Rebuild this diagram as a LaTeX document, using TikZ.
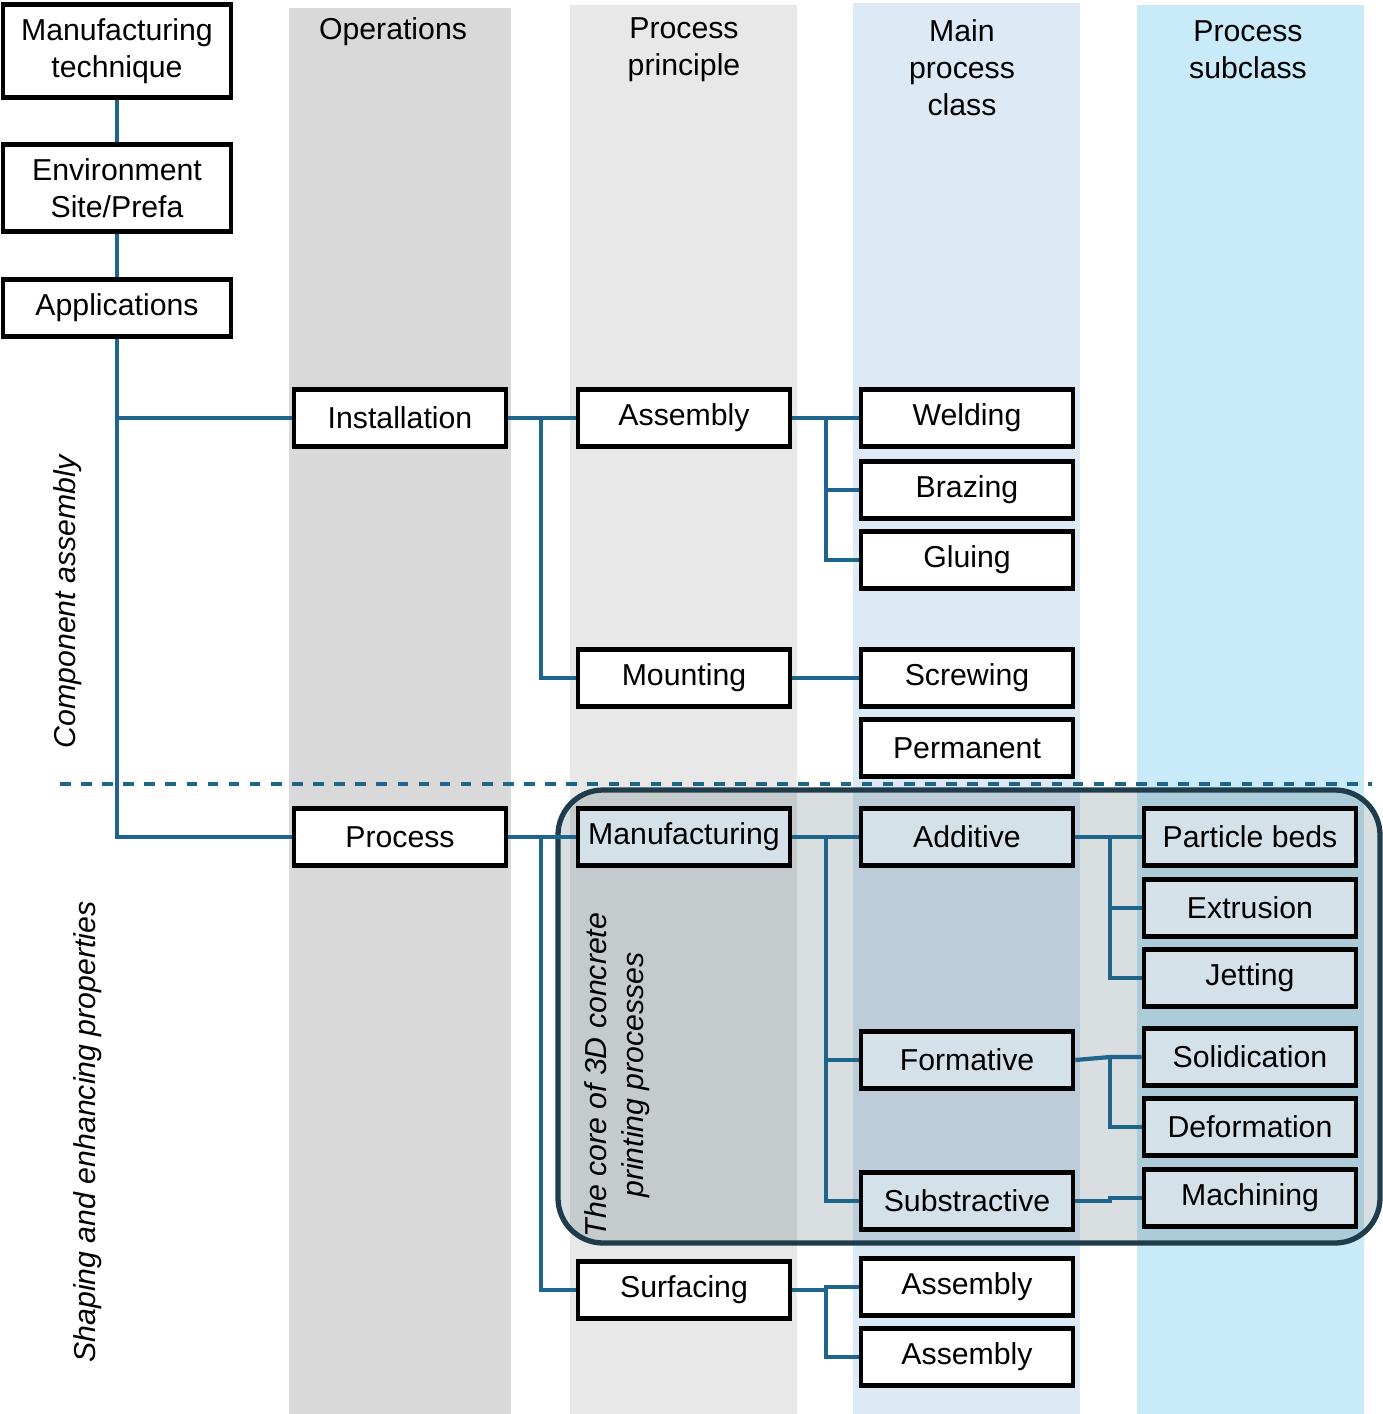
\documentclass[tikz,border=0pt]{standalone}
\usepackage{fontspec}
\setmainfont{Liberation Sans}
\usetikzlibrary{positioning}
\definecolor{link}{RGB}{31,100,138}
\definecolor{colops}{RGB}{217,217,217}
\definecolor{colprin}{RGB}{232,232,232}
\definecolor{colmain}{RGB}{221,234,246}
\definecolor{colsub}{RGB}{201,234,248}
\definecolor{corefill}{RGB}{213,225,233}
\definecolor{coreline}{RGB}{30,60,75}
\tikzset{
  box/.style={draw=black,line width=1.3pt,fill=white,minimum width=2.12cm,minimum height=0.57cm,inner sep=1pt,font=\fontsize{8.6}{10.5}\selectfont,align=center},
  core/.style={box,fill=corefill},
  head/.style={font=\fontsize{8.6}{10.5}\selectfont,align=center},
  link/.style={draw=link,line width=1.2pt}
}
\begin{document}
\begin{tikzpicture}[x=0.01cm,y=-0.01cm]
\useasboundingbox (0,0) rectangle (1383,1414);
% columns
\fill[colops] (289,8) rectangle (511,1414);
\fill[colprin] (570,5) rectangle (797,1414);
\fill[colmain] (853,3) rectangle (1080,1414);
\fill[colsub] (1137,5) rectangle (1364,1414);
\node[head] at (393,32) {Operations};
\node[head] at (684,50) {Process\\principle};
\node[head] at (962,68) {Main\\process\\class};
\node[head] at (1248,50) {Process\\subclass};
% core region
\fill[coreline,fill opacity=0.17,rounded corners=0.45cm] (558,790) rectangle (1380,1243);
\draw[coreline,line width=1.5pt,rounded corners=0.45cm] (558,790) rectangle (1380,1243);
\draw[link,dashed,line width=1.3pt] (60,784) -- (1372,784);
% left column
\node[box,minimum width=2.28cm,minimum height=0.93cm] (tech) at (117,51) {Manufacturing\\technique};
\node[box,minimum width=2.28cm,minimum height=0.87cm] (env) at (117,188) {Environment\\Site/Prefa};
\node[box,minimum width=2.28cm] (appl) at (117,308) {Applications};
\node[head,rotate=90,font=\fontsize{8.6}{10.5}\selectfont\itshape] at (68,602) {Component assembly};
\node[head,rotate=90,font=\fontsize{8.6}{10.5}\selectfont\itshape] at (88,1132) {Shaping and enhancing properties};
\node[head,rotate=90,font=\fontsize{8.6}{10.5}\selectfont\itshape] at (617,1075) {The core of 3D concrete\\printing processes};
% operations
\node[box] (inst) at (400,418) {Installation};
\node[box] (proc) at (400,837) {Process};
% process principle
\node[box] (assy) at (684,418) {Assembly};
\node[box] (moun) at (684,678) {Mounting};
\node[core] (manu) at (684,837) {Manufacturing};
\node[box] (surf) at (684,1290) {Surfacing};
% main process class
\node[box] (weld) at (967,418) {Welding};
\node[box] (braz) at (967,490) {Brazing};
\node[box] (glue) at (967,560) {Gluing};
\node[box] (screw) at (967,678) {Screwing};
\node[box] (perm) at (967,748) {Permanent};
\node[core] (addi) at (967,837) {Additive};
\node[core] (form) at (967,1060) {Formative};
\node[core] (subs) at (967,1201) {Substractive};
\node[box] (assya) at (967,1287) {Assembly};
\node[box] (assyb) at (967,1357) {Assembly};
% process subclass
\node[core] (part) at (1250,837) {Particle beds};
\node[core] (extr) at (1250,908) {Extrusion};
\node[core] (jett) at (1250,978) {Jetting};
\node[core] (soli) at (1250,1057) {Solidication};
\node[core] (defo) at (1250,1127) {Deformation};
\node[core] (mach) at (1250,1198) {Machining};
% connectors
\draw[link] (tech) -- (env);
\draw[link] (env) -- (appl);
\draw[link] (appl.south) -- (117,837) -- (proc.west);
\draw[link] (117,418) -- (inst.west);
\draw[link] (inst.east) -- (541,418) -- (assy.west);
\draw[link] (541,418) |- (moun.west);
\draw[link] (proc.east) -- (541,837) -- (manu.west);
\draw[link] (541,837) |- (surf.west);
\draw[link] (assy.east) -- (weld.west);
\foreach \n in {braz,glue} \draw[link] (826,418) |- (\n.west);
\draw[link] (moun) -- (screw);
\draw[link] (manu.east) -- (addi.west);
\foreach \n in {form,subs} \draw[link] (826,837) |- (\n.west);
\draw[link] (addi.east) -- (part.west);
\foreach \n in {extr,jett} \draw[link] (1110,837) |- (\n.west);
\draw[link] (form.east) -- (1110,1057) -- (soli.west);
\draw[link] (1110,1057) |- (defo.west);
\draw[link] (subs.east) -- (1110,1201) |- (mach.west);
\draw[link] (surf.east) -- (826,1290) |- (assya.west);
\draw[link] (826,1290) |- (assyb.west);
\end{tikzpicture}
\end{document}
